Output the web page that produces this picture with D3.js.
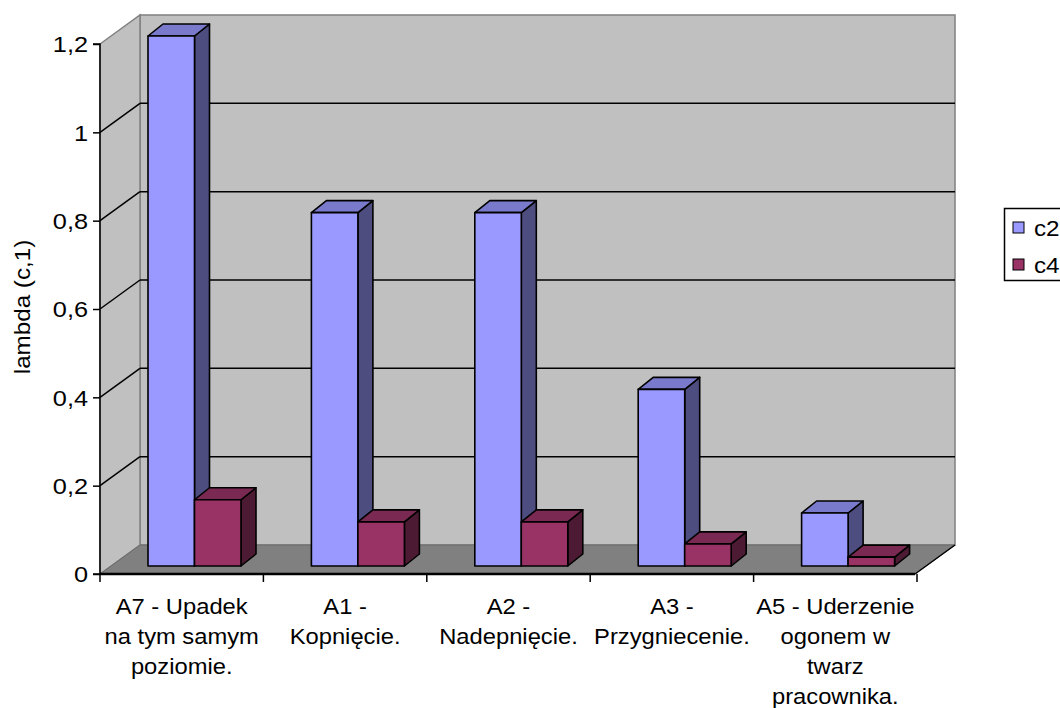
<!DOCTYPE html>
<html><head><meta charset="utf-8">
<script src="https://cdn.jsdelivr.net/npm/d3@7"></script>
<style>html,body{margin:0;padding:0;background:#fff}</style>
</head><body>
<svg id="chart" width="1060" height="708"></svg>
<script>
const categories = [
  ["A7 - Upadek", "na tym samym", "poziomie."],
  ["A1 -", "Kopnięcie."],
  ["A2 -", "Nadepnięcie."],
  ["A3 -", "Przygniecenie."],
  ["A5 - Uderzenie", "ogonem w", "twarz", "pracownika."]
];
const categoryKeys = ["A7", "A1", "A2", "A3", "A5"];
const seriesNames = ["c2", "c4"];
const c2Values = [1.2, 0.8, 0.8, 0.4, 0.12];
const c4Values = [0.15, 0.1, 0.1, 0.05, 0.02];
const yTicks = [0, 0.2, 0.4, 0.6, 0.8, 1, 1.2];
const yTickLabels = ["0", "0,2", "0,4", "0,6", "0,8", "1", "1,2"];
const yTitle = "lambda (c,1)";

const seriesValues = [c2Values, c4Values];
const colors = {
  c2: {front: "#9999ff", top: "#7a7acc", side: "#4d4d80"},
  c4: {front: "#993366", top: "#7a2952", side: "#4d1a33"}
};

const svg = d3.select("#chart");
const font = "'Liberation Sans', Arial, sans-serif";
const FS = 22;

// geometry
const X0 = 100, X1 = 915, Y0 = 574, Y1 = 44;
const WDX = 40, WDY = -29;       // wall depth offset
const BDX = 15, BDY = -12;       // bar depth offset
const BAR_SHIFT_Y = -8;          // bar base sits slightly back from front edge

const y = d3.scaleLinear().domain([0, 1.2]).range([Y0, Y1]);
const yBar = d3.scaleLinear().domain([0, 1.2]).range([Y0 + BAR_SHIFT_Y, Y1 + BAR_SHIFT_Y]);
const x = d3.scaleBand().domain(categoryKeys).range([X0, 917]).paddingInner(0).paddingOuter(0);
const xs = d3.scaleBand().domain(seriesNames).range([48, 141]);

// back wall
svg.append("rect")
  .attr("x", X0 + WDX).attr("y", Y1 + WDY)
  .attr("width", X1 - X0).attr("height", Y0 - Y1)
  .attr("fill", "#c0c0c0").attr("stroke", "#808080").attr("stroke-width", 1.5);

// left wall
svg.append("path")
  .attr("d", `M${X0},${Y1}L${X0 + WDX},${Y1 + WDY}L${X0 + WDX},${Y0 + WDY}L${X0},${Y0}Z`)
  .attr("fill", "#c0c0c0").attr("stroke", "#808080").attr("stroke-width", 1.5);

// floor
svg.append("path")
  .attr("d", `M${X0},${Y0}L${X1},${Y0}L${X1 + WDX},${Y0 + WDY}L${X0 + WDX},${Y0 + WDY}Z`)
  .attr("fill", "#808080").attr("stroke", "#6a6a6a").attr("stroke-width", 1);

// gridlines on back wall and left wall
const inner = yTicks.filter(t => t > 0 && t < 1.2);
svg.append("g").selectAll("line").data(inner).join("line")
  .attr("x1", X0 + WDX).attr("x2", X1 + WDX)
  .attr("y1", d => y(d) + WDY).attr("y2", d => y(d) + WDY)
  .attr("stroke", "#000").attr("stroke-width", 1.5);
svg.append("g").selectAll("line").data(inner).join("line")
  .attr("x1", X0).attr("x2", X0 + WDX)
  .attr("y1", d => y(d)).attr("y2", d => y(d) + WDY)
  .attr("stroke", "#000").attr("stroke-width", 1.5);

// floor right diagonal
svg.append("line")
  .attr("x1", X1).attr("y1", Y0).attr("x2", X1 + WDX).attr("y2", Y0 + WDY)
  .attr("stroke", "#000").attr("stroke-width", 1.5);

// bars
const bars = [];
categoryKeys.forEach((c, i) => {
  seriesNames.forEach((s, j) => {
    bars.push({c, s, v: seriesValues[j][i]});
  });
});
const gBars = svg.append("g");
bars.forEach(b => {
  const xl = x(b.c) + xs(b.s), xr = xl + xs.bandwidth();
  const yt = yBar(b.v), yb = yBar(0);
  const col = colors[b.s];
  const g = gBars.append("g").attr("stroke", "#000").attr("stroke-width", 1.6).attr("stroke-linejoin", "round");
  g.append("path").attr("fill", col.side)
    .attr("d", `M${xr},${yt}L${xr + BDX},${yt + BDY}L${xr + BDX},${yb + BDY}L${xr},${yb}Z`);
  g.append("path").attr("fill", col.top)
    .attr("d", `M${xl},${yt}L${xl + BDX},${yt + BDY}L${xr + BDX},${yt + BDY}L${xr},${yt}Z`);
  g.append("rect").attr("fill", col.front)
    .attr("x", xl).attr("y", yt).attr("width", xr - xl).attr("height", yb - yt);
});

// y axis
const yAxis = d3.axisLeft(y).tickValues(yTicks).tickSize(7)
  .tickFormat((d, i) => yTickLabels[i]);
const ga = svg.append("g").attr("transform", `translate(${X0},0)`).call(yAxis);
ga.select(".domain").attr("stroke", "#000").attr("stroke-width", 1.5).attr("d", `M-7,${Y1}H0V${Y0}H-7`);
ga.selectAll(".tick line").attr("stroke", "#000").attr("stroke-width", 1.5);
ga.selectAll(".tick text").attr("font-family", font).attr("font-size", FS)
  .attr("fill", "#000").attr("x", 0).attr("dy", "0.36em")
  .attr("transform", "translate(-12,0) scale(1.15,1)");

// x axis
const xAxis = d3.axisBottom(x).tickSize(0).tickFormat(() => "");
const gx = svg.append("g").attr("transform", `translate(0,${Y0})`).call(xAxis);
gx.select(".domain").attr("stroke", "#000").attr("stroke-width", 2.5).attr("d", `M${X0},0H${X1}`);
const boundaries = categoryKeys.map(c => x(c)).concat([x(categoryKeys[4]) + x.bandwidth()]);
gx.append("g").selectAll("line").data(boundaries).join("line")
  .attr("x1", d => d).attr("x2", d => d).attr("y1", 0).attr("y2", 8)
  .attr("stroke", "#000").attr("stroke-width", 1.5);

const labels = svg.append("g").attr("font-family", font).attr("font-size", FS).attr("fill", "#000");
categoryKeys.forEach((c, i) => {
  const t = labels.append("text").attr("text-anchor", "middle")
    .attr("transform", `translate(${x(c) + x.bandwidth() / 2},614) scale(1.08,1)`);
  categories[i].forEach((line, k) => {
    t.append("tspan").attr("x", 0).attr("y", k * 30).text(line);
  });
});

// y title
svg.append("text").attr("font-family", font).attr("font-size", FS).attr("fill", "#000")
  .attr("text-anchor", "middle")
  .attr("transform", "translate(30,307) rotate(-90) scale(1.1,1)")
  .text(yTitle);

// legend
const lg = svg.append("g");
lg.append("rect").attr("x", 1004.5).attr("y", 208.5).attr("width", 80).attr("height", 72)
  .attr("fill", "#fff").attr("stroke", "#000").attr("stroke-width", 1.5);
seriesNames.forEach((s, i) => {
  const yy = 228 + i * 37;
  lg.append("rect").attr("x", 1013).attr("y", yy - 6).attr("width", 11).attr("height", 11)
    .attr("fill", colors[s].front).attr("stroke", "#000").attr("stroke-width", 1);
  lg.append("text").attr("x", 0).attr("y", 0).attr("dy", "0.36em")
    .attr("transform", `translate(1034,${yy}) scale(1.1,1)`)
    .attr("font-family", font).attr("font-size", FS).attr("fill", "#000").text(s);
});
</script>
</body></html>
